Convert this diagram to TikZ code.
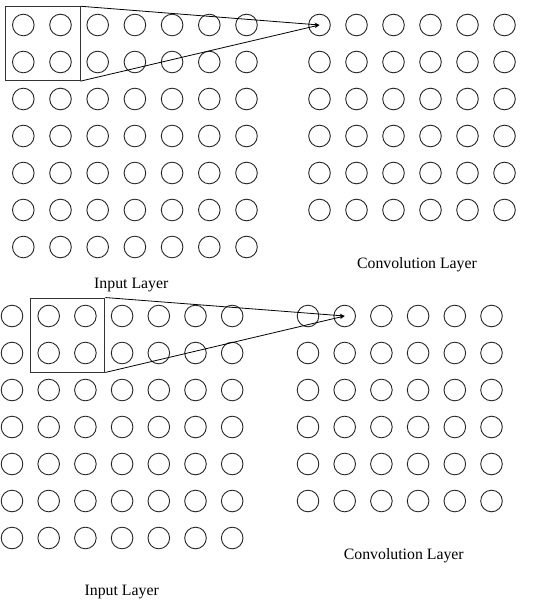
\documentclass[tikz,border=0pt]{standalone}
\usepackage{fontspec}
\setmainfont{Liberation Serif}
\usetikzlibrary{arrows.meta}
\begin{document}
\begin{tikzpicture}[x=1pt,y=-1pt,
  neuron/.style={circle,draw=black!85,line width=0.9pt,minimum size=21.6pt,inner sep=0pt},
  window/.style={draw=black!80,line width=0.9pt,minimum width=74.3pt,minimum height=74pt,inner sep=0pt},
  link/.style={draw=black,line width=0.8pt,-{Stealth[length=5pt,width=4pt]}},
  lbl/.style={anchor=base,font=\fontsize{15.8}{18}\selectfont}]
\useasboundingbox (0,0) rectangle (548,613);
% top input layer
\foreach \r in {0,...,6} \foreach \c in {0,...,6}
  \node[neuron] (ta-\r-\c) at ({23.3+37.2*\c},{25+37*\r}) {};
% top convolution layer
\foreach \r in {0,...,5} \foreach \c in {0,...,5}
  \node[neuron] (tb-\r-\c) at ({319.5+37*\c},{25+37*\r}) {};
\node[window] (tw) at (42.9,43.7) {};
\draw[link] (tw.north east) -- (tb-0-0.center);
\draw[link] (tw.south east) -- (tb-0-0.center);
\node[lbl] (tl1) at (131.3,288.3) {Input Layer};
\node[lbl] (tl2) at (417,268.3) {Convolution Layer};
% bottom input layer
\foreach \r in {0,...,6} \foreach \c in {0,...,6}
  \node[neuron] (ba-\r-\c) at ({12+36.7*\c},{316+37*\r}) {};
% bottom convolution layer
\foreach \r in {0,...,5} \foreach \c in {0,...,5}
  \node[neuron] (bb-\r-\c) at ({308+36.7*\c},{316+37*\r}) {};
\node[window] (bw) at (67.7,335) {};
\draw[link] (bw.north east) -- (bb-0-1.center);
\draw[link] (bw.south east) -- (bb-0-1.center);
\node[lbl] (bl1) at (121.7,595.7) {Input Layer};
\node[lbl] (bl2) at (403.8,559.3) {Convolution Layer};
\end{tikzpicture}
\end{document}
